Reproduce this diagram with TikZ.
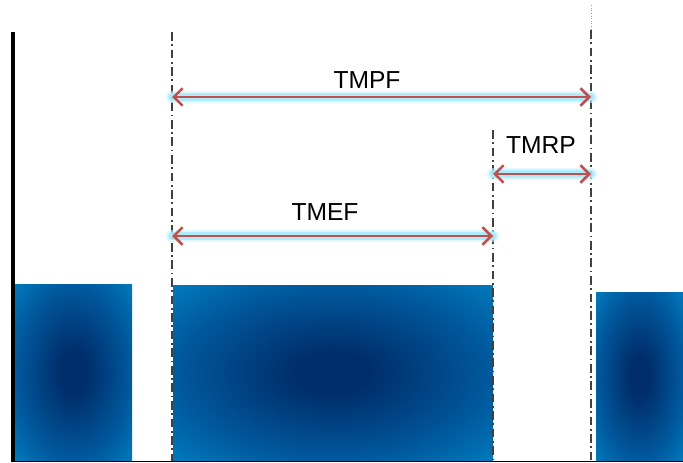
\documentclass[tikz,border=0pt]{standalone}
\usepackage{fontspec}
\setmainfont{Liberation Sans}
\usetikzlibrary{positioning,arrows.meta,calc}

\definecolor{barEdge}{HTML}{007CBE}
\definecolor{barMid}{HTML}{00589C}
\definecolor{barCore}{HTML}{002E6C}
\definecolor{arrowRed}{HTML}{C0504D}
\definecolor{glowCyan}{HTML}{A6E8F8}

\pgfdeclareradialshading{barglow}{\pgfpoint{0bp}{0bp}}{%
  color(0bp)=(barCore); color(6bp)=(barCore); color(24bp)=(barMid);
  color(36bp)=(barEdge); color(50bp)=(barEdge)}

\begin{document}
\begin{tikzpicture}[
  x=0.02cm, y=-0.02cm,
  font=\fontsize{14}{16}\selectfont,
  bar_fill/.style={shading=barglow},
  mark_line/.style={draw=black!75, line width=0.6pt, dash pattern=on 5pt off 2pt on 1pt off 2pt},
  span_halo/.style={draw=glowCyan!60, line width=7pt, line cap=round, opacity=0.6},
  span_glow/.style={draw=glowCyan, line width=4.5pt, line cap=round, opacity=0.8},
  span_arrow/.style={draw=arrowRed, line width=1.5pt,
    {Straight Barb[length=5pt,width=10pt]}-{Straight Barb[length=5pt,width=10pt]}}
]
% Everything in reference pixels: x to the right, y downwards.
\def\yBase{461}
\def\xA{172}
\def\xB{493}
\def\xC{591}

\useasboundingbox (0,0) rectangle (683,463);

% --- Bars ---
\shade[bar_fill] (15,284) rectangle (132,\yBase);
\shade[bar_fill] (173,285) rectangle (\xB,\yBase);
\shade[bar_fill] (596,292) rectangle (683,\yBase);

% --- Axes ---
\draw[line width=0.5pt] (13,\yBase) -- (683,\yBase);
\draw[line width=2.2pt] (13,32) -- (13,462);

% --- Time markers ---
\coordinate (mA) at (\xA,32);
\coordinate (mB) at (\xB,130);
\coordinate (mC) at (\xC,30);
\draw[mark_line] (mA) -- (\xA,\yBase);
\draw[mark_line] (mB) -- (\xB,\yBase);
\draw[mark_line] (mC) -- (\xC,\yBase);
\draw[black!40, line width=0.5pt, densely dotted] (\xC,5) -- (mC);

% --- Spans ---
\coordinate (pfL) at (\xA,97);
\coordinate (pfR) at (\xC,97);
\coordinate (rpL) at (\xB,174);
\coordinate (rpR) at (\xC,174);
\coordinate (efL) at (\xA,236);
\coordinate (efR) at (\xB,236);
\foreach \a/\b in {pfL/pfR, rpL/rpR, efL/efR} {
  \draw[span_halo] (\a) -- (\b);
  \draw[span_glow] (\a) -- (\b);
  \draw[span_arrow] (\a) -- (\b);
}
\node (tmpf) at (367,80) {TMPF};
\node (tmrp) at (541,145) {TMRP};
\node (tmef) at (325,212) {TMEF};

\end{tikzpicture}
\end{document}
